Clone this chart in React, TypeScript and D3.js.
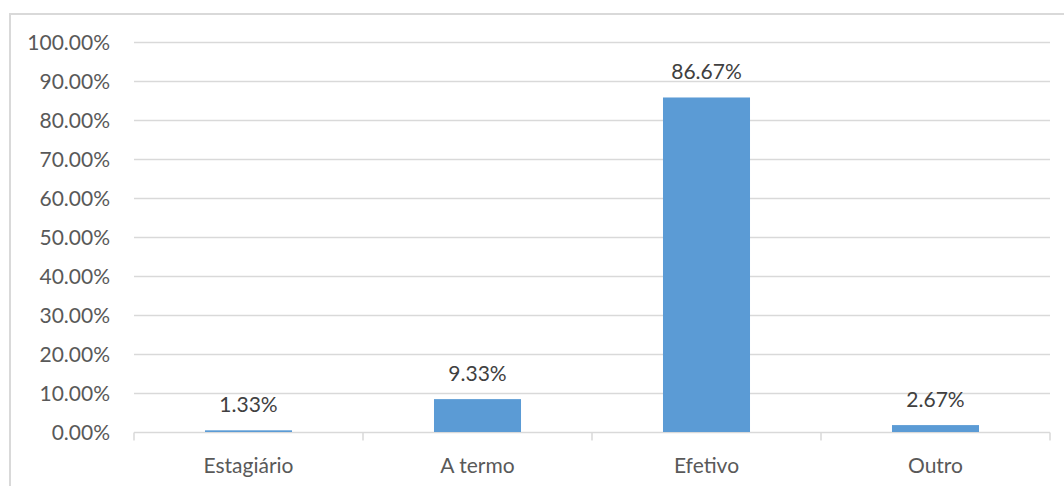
import React from "react";
import * as d3 from "d3";

const categories = ["Estagiário", "A termo", "Efetivo", "Outro"];
const values = [1.33, 9.33, 86.67, 2.67];
const yTicks = [0, 10, 20, 30, 40, 50, 60, 70, 80, 90, 100];

const W = 1064;
const H = 486;
const plot = { left: 134, right: 1050, top: 42.5, bottom: 432.5 };
const FONT = "Lato, 'Open Sans', sans-serif";

export default function App() {
  const x = d3
    .scaleBand<string>()
    .domain(categories)
    .range([plot.left, plot.right])
    .paddingInner(0.62)
    .paddingOuter(0.31);
  const xb = d3.scaleBand<string>().domain(categories).range([plot.left, plot.right]);
  const y = d3.scaleLinear().domain([0, 100]).range([plot.bottom, plot.top]);
  const fmt = (v: number) => v.toFixed(2) + "%";
  const boundaries = [...categories.map((c) => xb(c) as number), plot.right];

  return (
    <svg
      width={W}
      height={H}
      style={{ position: "absolute", left: 0, top: 0, background: "#fff" }}
    >
      <rect x={10} y={14} width={1100} height={520} fill="none" stroke="#d9d9d9" strokeWidth={2} />
      {yTicks.map((t) => (
        <g key={t}>
          {t > 0 && (
            <line x1={plot.left} x2={plot.right} y1={y(t)} y2={y(t)} stroke="#d9d9d9" strokeWidth={1.5} />
          )}
          <text
            x={110}
            y={y(t)}
            dy="0.36em"
            textAnchor="end"
            fontFamily={FONT}
            fontSize={21}
            fill="#595959"
          >
            {fmt(t)}
          </text>
        </g>
      ))}
      <line x1={plot.left} x2={plot.right} y1={plot.bottom} y2={plot.bottom} stroke="#d9d9d9" strokeWidth={1.5} />
      {boundaries.map((b, i) => (
        <line key={i} x1={b} x2={b} y1={plot.bottom} y2={plot.bottom + 8} stroke="#d9d9d9" strokeWidth={1.5} />
      ))}
      {categories.map((c, i) => {
        const v = values[i];
        const top = y(v) + 3;
        return (
          <g key={c}>
            <rect
              x={x(c)}
              y={top}
              width={x.bandwidth()}
              height={Math.max(plot.bottom - 0.5 - top, 1)}
              fill="#5b9bd5"
            />
            <text
              x={(x(c) as number) + x.bandwidth() / 2}
              y={y(v) - 23}
              dy="0.36em"
              textAnchor="middle"
              fontFamily={FONT}
              fontSize={21}
              fill="#404040"
            >
              {fmt(v)}
            </text>
            <text
              x={(x(c) as number) + x.bandwidth() / 2}
              y={465}
              dy="0.36em"
              textAnchor="middle"
              fontFamily={FONT}
              fontSize={21}
              fill="#595959"
            >
              {c}
            </text>
          </g>
        );
      })}
    </svg>
  );
}
